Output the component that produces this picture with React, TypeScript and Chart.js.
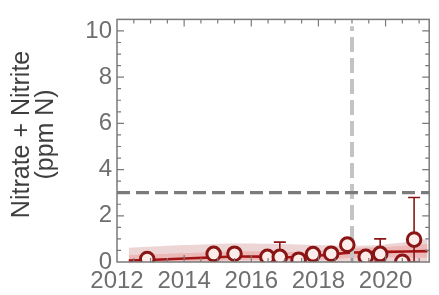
import React, { useEffect, useRef } from "react";
import { Chart, registerables } from "chart.js";

Chart.register(...registerables);

// ---- data ----
const sampleYears = [2012.9, 2014.88, 2015.5, 2016.48, 2016.85, 2017.41, 2017.84, 2018.38, 2018.86, 2019.41, 2019.84, 2020.5, 2020.85];
const sampleValues = [0.13, 0.35, 0.36, 0.22, 0.22, 0.1, 0.34, 0.36, 0.75, 0.22, 0.35, 0.01, 0.97];
const errorHigh: (number | null)[] = [null, null, null, null, 0.86, null, null, null, null, null, 1.0, null, 2.79];
const errorLow: (number | null)[] = [null, null, null, null, null, null, null, null, null, 0.04, 0.03, null, 0.0];

const trendYears = [2012.35, 2013.5, 2014.9, 2015.5, 2016.5, 2017.4, 2018.4, 2019.0, 2020.0, 2021.25];
const trendValues = [0.06, 0.12, 0.2, 0.24, 0.23, 0.21, 0.33, 0.41, 0.44, 0.47];
const bandOuterUpper = [0.62, 0.7, 0.78, 0.8, 0.79, 0.76, 0.72, 0.7, 0.76, 0.98];
const bandInnerLower = [0.0, 0.0, 0.05, 0.08, 0.08, 0.07, 0.12, 0.18, 0.2, 0.18];
const bandInnerUpper = [0.3, 0.36, 0.42, 0.46, 0.45, 0.43, 0.52, 0.6, 0.65, 0.78];

const thresholdValue = 3;
const referenceYear = 2019;
const referenceTop = 10.2;

const xMin = 2012;
const xMax = 2021.3;
const yMin = 0;
const yMax = 10.5;
const xTickValues = [2012, 2014, 2016, 2018, 2020];
const yTickValues = [0, 2, 4, 6, 8, 10];
const yTitle = ["\u2002Nitrate + Nitrite", "\u2002(ppm N)"];

const FONT = "'Liberation Sans', Arial, sans-serif";
const DARK_RED = "#8a1515";

const errorBarPlugin = {
  id: "errorBars",
  beforeDatasetDraw(chart: any, args: any) {
    if (chart.data.datasets[args.index].label !== "samples") return;
    const { ctx, chartArea, scales } = chart;
    const x = scales.x, y = scales.y;
    ctx.save();
    ctx.beginPath();
    ctx.rect(chartArea.left, chartArea.top, chartArea.right - chartArea.left, chartArea.bottom - chartArea.top);
    ctx.clip();
    ctx.strokeStyle = DARK_RED;
    ctx.lineWidth = 1.6;
    const cap = 6;
    sampleYears.forEach((yr, i) => {
      const px = x.getPixelForValue(yr);
      const py = y.getPixelForValue(sampleValues[i]);
      const hi = errorHigh[i];
      const lo = errorLow[i];
      ctx.beginPath();
      if (hi !== null) {
        const ph = y.getPixelForValue(hi);
        ctx.moveTo(px, py); ctx.lineTo(px, ph);
        ctx.moveTo(px - cap, ph); ctx.lineTo(px + cap, ph);
      }
      if (lo !== null) {
        const pl = y.getPixelForValue(lo);
        ctx.moveTo(px, py); ctx.lineTo(px, pl);
        ctx.moveTo(px - cap, pl); ctx.lineTo(px + cap, pl);
      }
      ctx.stroke();
    });
    ctx.restore();
  },
};

const framePlugin = {
  id: "frame",
  afterDraw(chart: any) {
    const { ctx, chartArea, scales } = chart;
    const { left, right, top, bottom } = chartArea;
    const x = scales.x, y = scales.y;
    ctx.save();
    ctx.strokeStyle = "#7a7a7a";
    ctx.lineWidth = 1.5;
    ctx.strokeRect(left, top, right - left, bottom - top);
    ctx.lineWidth = 1.2;
    ctx.beginPath();
    for (let v = xMin; v <= xMax + 1e-9; v += 0.5) {
      const px = x.getPixelForValue(v);
      if (px <= left + 1 || px >= right - 1) continue;
      const major = Math.abs(v - Math.round(v)) < 1e-6 && Math.round(v) % 2 === 0;
      const len = major ? 7 : 4;
      ctx.moveTo(px, bottom); ctx.lineTo(px, bottom - len);
      ctx.moveTo(px, top); ctx.lineTo(px, top + len);
    }
    for (let v = yMin; v <= yMax + 1e-9; v += 0.5) {
      const py = y.getPixelForValue(v);
      if (py <= top + 1 || py >= bottom - 1) continue;
      const major = Math.abs(v - Math.round(v)) < 1e-6 && Math.round(v) % 2 === 0;
      const len = major ? 7 : 4;
      ctx.moveTo(left, py); ctx.lineTo(left + len, py);
      ctx.moveTo(right, py); ctx.lineTo(right - len, py);
    }
    ctx.stroke();
    ctx.restore();
  },
};

export default function App() {
  const canvasRef = useRef<HTMLCanvasElement | null>(null);

  useEffect(() => {
    document.body.style.margin = "0";
    const canvas = canvasRef.current;
    if (!canvas) return;
    const pts = (xs: number[], ys: number[]) => xs.map((v, i) => ({ x: v, y: ys[i] }));

    const chart = new Chart(canvas, {
      type: "line",
      data: {
        datasets: [
          {
            label: "samples",
            data: pts(sampleYears, sampleValues),
            showLine: false,
            pointRadius: 6.8,
            pointBorderWidth: 3,
            pointBorderColor: DARK_RED,
            pointBackgroundColor: "#fcecea",
            order: 0,
          },
          {
            label: "threshold",
            data: [{ x: xMin, y: thresholdValue }, { x: xMax, y: thresholdValue }],
            borderColor: "#7b7b7b",
            borderWidth: 3.2,
            borderDash: [13, 6],
            pointRadius: 0,
            order: 1,
          },
          {
            label: "reference",
            data: [{ x: referenceYear, y: yMin }, { x: referenceYear, y: referenceTop }],
            borderColor: "#c4c4c4",
            borderWidth: 4,
            borderDash: [15, 6],
            pointRadius: 0,
            order: 2,
          },
          {
            label: "trend",
            data: pts(trendYears, trendValues),
            borderColor: "#a51414",
            borderWidth: 2.6,
            pointRadius: 0,
            tension: 0.3,
            order: 3,
          },
          {
            label: "innerLower",
            data: pts(trendYears, bandInnerLower),
            borderWidth: 0,
            pointRadius: 0,
            tension: 0.3,
            order: 5,
          },
          {
            label: "innerUpper",
            data: pts(trendYears, bandInnerUpper),
            borderWidth: 0,
            pointRadius: 0,
            tension: 0.3,
            fill: "-1",
            backgroundColor: "rgba(240,120,120,0.3)",
            order: 4,
          },
          {
            label: "outerUpper",
            data: pts(trendYears, bandOuterUpper),
            borderWidth: 0,
            pointRadius: 0,
            tension: 0.3,
            fill: "origin",
            backgroundColor: "rgba(228,190,190,0.65)",
            order: 6,
          },
        ],
      },
      options: {
        animation: false,
        responsive: false,
        maintainAspectRatio: false,
        layout: { padding: { top: 6, right: 7, left: 0, bottom: 0 } },
        plugins: { legend: { display: false }, tooltip: { enabled: false } },
        scales: {
          x: {
            type: "linear",
            min: xMin,
            max: xMax,
            grid: { display: false, drawTicks: false },
            border: { display: false },
            afterBuildTicks: (s: any) => { s.ticks = xTickValues.map((v) => ({ value: v })); },
            afterFit: (s: any) => { s.height = 33; },
            ticks: {
              padding: 5,
              color: "#6f6f6f",
              font: { family: FONT, size: 24 },
              maxRotation: 0,
              autoSkip: false,
              callback: (v: any) => String(v),
            },
          },
          y: {
            type: "linear",
            min: yMin,
            max: yMax,
            grid: { display: false, drawTicks: false },
            border: { display: false },
            afterBuildTicks: (s: any) => { s.ticks = yTickValues.map((v) => ({ value: v })); },
            afterFit: (s: any) => { s.width = 117; },
            ticks: {
              padding: 5,
              color: "#6f6f6f",
              font: { family: FONT, size: 24 },
              autoSkip: false,
              callback: (v: any) => String(v),
            },
            title: {
              display: true,
              text: yTitle,
              color: "#3e3e3e",
              font: { family: FONT, size: 25, lineHeight: 0.96 },
              padding: { top: 10, bottom: 0 },
            },
          },
        },
      },
      plugins: [errorBarPlugin, framePlugin],
    } as any);

    return () => chart.destroy();
  }, []);

  return (
    <div style={{ width: 439, height: 295 }}>
      <canvas ref={canvasRef} width={439} height={295} style={{ display: "block" }} />
    </div>
  );
}
